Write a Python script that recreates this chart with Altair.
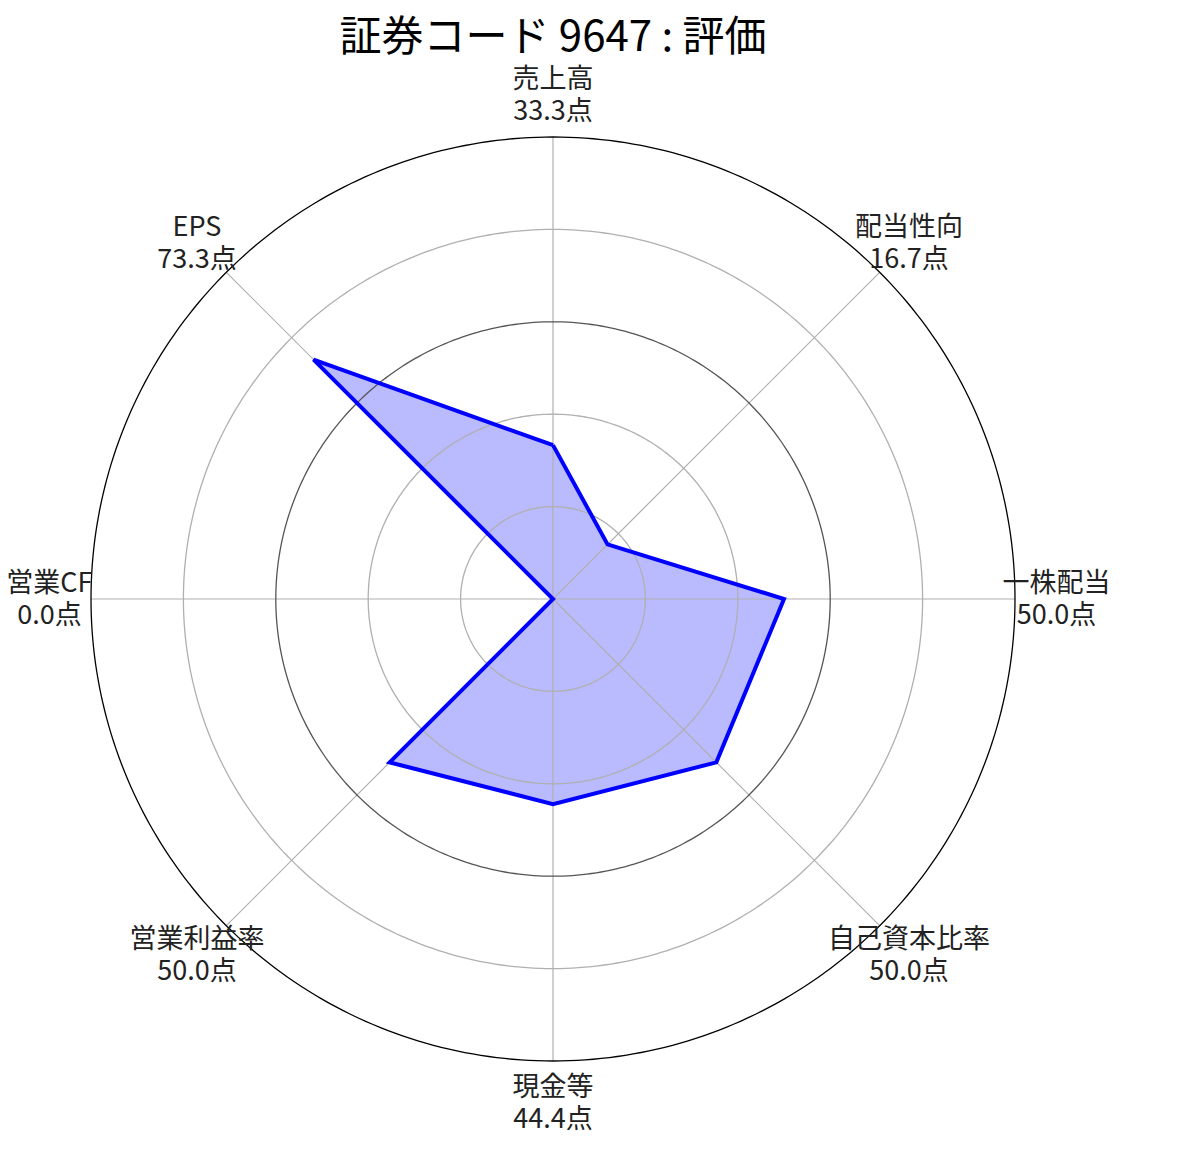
import numpy as np
import pandas as pd
import altair as alt

title = "証券コード 9647 : 評価"
categories = ["売上高", "配当性向", "一株配当", "自己資本比率", "現金等", "営業利益率", "営業CF", "EPS"]
scores = [33.3, 16.7, 50.0, 50.0, 44.4, 50.0, 0.0, 73.3]
ring_levels = [20, 40, 60, 80, 100]
ring_colors = ["#b0b0b0", "#b0b0b0", "#555555", "#b0b0b0", "#000000"]
label_radius = 109

n = len(categories)
angles = [np.pi / 2 - 2 * np.pi * i / n for i in range(n)]

# polygon
poly = pd.DataFrame({
    "order": list(range(n + 1)),
    "x": [scores[i % n] * np.cos(angles[i % n]) for i in range(n + 1)],
    "y": [scores[i % n] * np.sin(angles[i % n]) for i in range(n + 1)],
})

# rings
t = np.linspace(0, 2 * np.pi, 361)
ring_rows = []
for lv, col in zip(ring_levels, ring_colors):
    for k, a in enumerate(t):
        ring_rows.append({"level": lv, "color": col, "k": k,
                          "x": lv * np.cos(a), "y": lv * np.sin(a)})
rings = pd.DataFrame(ring_rows)

spokes = pd.DataFrame({
    "x": [0.0] * n, "y": [0.0] * n,
    "x2": [100 * np.cos(a) for a in angles],
    "y2": [100 * np.sin(a) for a in angles],
})

labels = pd.DataFrame({
    "x": [label_radius * np.cos(a) for a in angles],
    "y": [label_radius * np.sin(a) for a in angles],
    "text": [f"{c}\n{s:.1f}点" for c, s in zip(categories, scores)],
})

xs = alt.Scale(domain=[-100, 100], nice=False, zero=False)
ys = alt.Scale(domain=[-100, 100], nice=False, zero=False)

fill = alt.Chart(poly).mark_line(filled=True, fill="#0000ff", fillOpacity=0.27, strokeOpacity=0).encode(
    x=alt.X("x:Q", scale=xs, axis=None),
    y=alt.Y("y:Q", scale=ys, axis=None),
    order="order:Q",
)

spoke_layer = alt.Chart(spokes).mark_rule(color="#b0b0b0", strokeWidth=1.2).encode(
    x="x:Q", y="y:Q", x2="x2:Q", y2="y2:Q"
)

ring_layer = alt.Chart(rings).mark_line(strokeWidth=1.3).encode(
    x="x:Q", y="y:Q", detail="level:N", order="k:Q",
    color=alt.Color("color:N", scale=None),
)

outline = alt.Chart(poly).mark_line(color="#0000ff", strokeWidth=4, strokeJoin="miter").encode(
    x="x:Q", y="y:Q", order="order:Q",
)

text_layer = alt.Chart(labels).mark_text(
    font="Noto Sans CJK JP", fontSize=27, lineBreak="\n", lineHeight=32, dy=-15,
    align="center", baseline="middle", color="#222222",
).encode(x="x:Q", y="y:Q", text="text:N")

chart = alt.layer(fill, spoke_layer, ring_layer, outline, text_layer).properties(
    width=924, height=924,
    title=alt.TitleParams(title, font="Noto Sans CJK JP", fontSize=42, fontWeight="normal",
                          color="#000000", anchor="middle", offset=6),
    autosize=alt.AutoSizeParams(type="none"),
    padding={"left": 83, "top": 129, "right": 150, "bottom": 95},
).configure_view(stroke=None)

chart.save("out.html", embed_options={"renderer": "svg", "actions": False})
